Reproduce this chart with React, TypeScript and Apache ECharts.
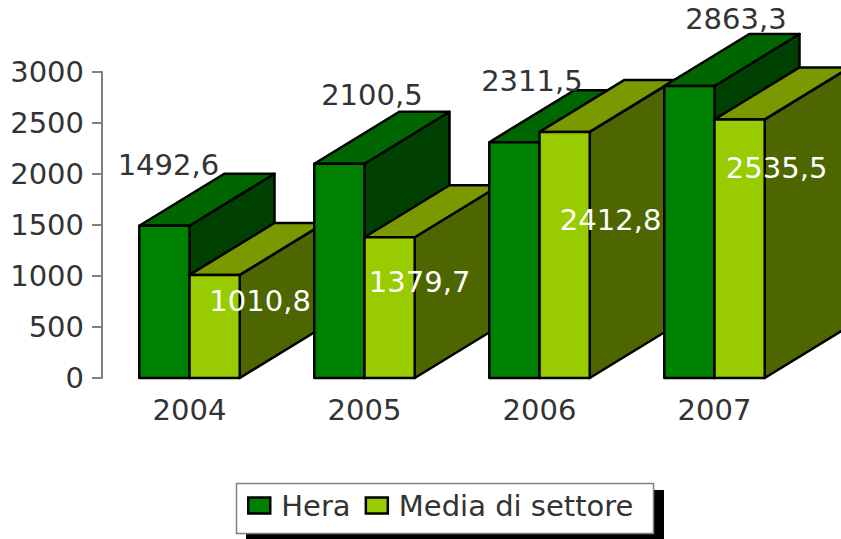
import React, { useEffect, useRef } from "react";
import * as echarts from "echarts";

const YEARS = ["2004", "2005", "2006", "2007"];
const HERA = [1492.6, 2100.5, 2311.5, 2863.3];
const MEDIA = [1010.8, 1379.7, 2412.8, 2535.5];
const Y_TICKS_MAX = 3000;
const Y_TICKS_STEP = 500;

// Label placement relative to the bar's front-top centre (centre of the text).
const HERA_LABEL_OFFSET = [[4, -61], [32.5, -69], [17.5, -61], [46.5, -67]];
const MEDIA_LABEL_OFFSET = [[45.5, 26], [30, 45], [46, 88], [37, 49]];

const FONT = "DejaVu Sans";
const FONT_SIZE = 29;
const DEPTH_X = 85;
const DEPTH_Y = -52;

const HERA_COLORS = { front: "#008000", top: "#006600", side: "#004000", text: "#333333" };
const MEDIA_COLORS = { front: "#99CC00", top: "#7A9900", side: "#4D6600", text: "#FFFFFF" };

const fmt = (v: number) => v.toFixed(1).replace(".", ",");

function bar3d(side: -1 | 1, colors: typeof HERA_COLORS, offsets: number[][], seriesOrder: number) {
  return (params: any, api: any) => {
    const i = api.value(0);
    const v = api.value(1);
    const top = api.coord([i, v]);
    const base = api.coord([i, 0]);
    const w = api.size([1, 0])[0] * 0.287;
    const x0 = side < 0 ? top[0] - w : top[0];
    const x1 = x0 + w;
    const yT = top[1];
    const yB = base[1];
    const z2 = i * 10 + seriesOrder;
    const st = (fill: string) => ({ fill, stroke: "#000000", lineWidth: 2.5, lineJoin: "round" });
    return {
      type: "group",
      children: [
        {
          type: "polygon",
          z2,
          shape: { points: [[x1, yT], [x1 + DEPTH_X, yT + DEPTH_Y], [x1 + DEPTH_X, yB + DEPTH_Y], [x1, yB]] },
          style: st(colors.side),
        },
        {
          type: "polygon",
          z2,
          shape: { points: [[x0, yT], [x0 + DEPTH_X, yT + DEPTH_Y], [x1 + DEPTH_X, yT + DEPTH_Y], [x1, yT]] },
          style: st(colors.top),
        },
        {
          type: "rect",
          z2,
          shape: { x: x0, y: yT, width: w, height: yB - yT },
          style: st(colors.front),
        },
        {
          type: "text",
          z2: 1000,
          style: {
            text: fmt(v),
            x: x0 + w / 2 + offsets[i][0],
            y: yT + offsets[i][1],
            fill: colors.text,
            fontSize: FONT_SIZE,
            fontFamily: FONT,
            align: "center",
            verticalAlign: "middle",
          },
        },
      ],
    };
  };
}

export default function App() {
  const ref = useRef<HTMLDivElement>(null);
  useEffect(() => {
    document.body.style.margin = "0";
    const chart = echarts.init(ref.current!, undefined, { renderer: "svg" });
    chart.setOption({
      animation: false,
      backgroundColor: "#FFFFFF",
      grid: { left: 102, top: 72, width: 700, height: 306, containLabel: false },
      xAxis: {
        type: "category",
        data: YEARS,
        axisLine: { show: false },
        axisTick: { show: false },
        axisLabel: { color: "#333333", fontFamily: FONT, fontSize: FONT_SIZE, margin: 17 },
      },
      yAxis: {
        type: "value",
        min: 0,
        max: Y_TICKS_MAX,
        interval: Y_TICKS_STEP,
        splitLine: { show: false },
        axisLine: { show: true, lineStyle: { color: "#808080", width: 2 } },
        axisTick: { show: true, length: 10, lineStyle: { color: "#808080", width: 2 } },
        axisLabel: {
          color: "#333333",
          fontFamily: FONT,
          fontSize: FONT_SIZE,
          margin: 18,
          formatter: (v: number) => String(v),
        },
      },
      legend: {
        left: 247,
        top: 491,
        padding: 0,
        icon: "rect",
        itemWidth: 22,
        itemHeight: 16,
        itemGap: 14,
        selectedMode: false,
        itemStyle: { borderColor: "#000000", borderWidth: 2.5 },
        textStyle: { color: "#333333", fontFamily: FONT, fontSize: 29, padding: [0, 0, 0, 6] },
        data: ["Hera", "Media di settore"],
      },
      graphic: [
        { type: "rect", z: 0, shape: { x: 246, y: 490, width: 418, height: 49 }, style: { fill: "#000000" } },
        {
          type: "rect",
          z: 1,
          shape: { x: 236.5, y: 483.5, width: 417, height: 50 },
          style: { fill: "#FFFFFF", stroke: "#808080", lineWidth: 1.5 },
        },
      ],
      series: [
        {
          type: "custom",
          name: "Hera",
          itemStyle: { color: HERA_COLORS.front },
          encode: { x: 0, y: 1 },
          data: HERA.map((v, i) => [i, v]),
          renderItem: bar3d(-1, HERA_COLORS, HERA_LABEL_OFFSET, 0),
          silent: true,
        },
        {
          type: "custom",
          name: "Media di settore",
          itemStyle: { color: MEDIA_COLORS.front },
          encode: { x: 0, y: 1 },
          data: MEDIA.map((v, i) => [i, v]),
          renderItem: bar3d(1, MEDIA_COLORS, MEDIA_LABEL_OFFSET, 1),
          silent: true,
        },
      ],
    });
    return () => chart.dispose();
  }, []);
  return <div ref={ref} style={{ width: 841, height: 539 }} />;
}
